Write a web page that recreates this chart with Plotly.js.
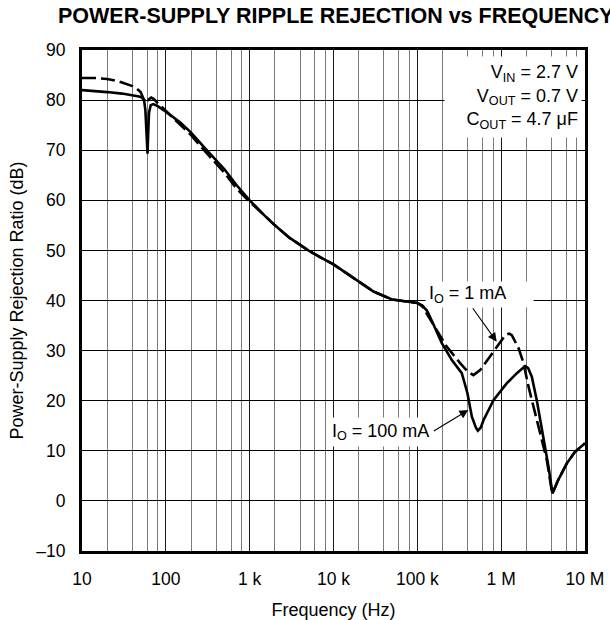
<!DOCTYPE html>
<html>
<head>
<meta charset="utf-8">
<script src="https://cdn.plot.ly/plotly-3.0.1.min.js"></script>
<style>html,body{margin:0;padding:0;background:#fff;}#chart{width:610px;height:620px;}</style>
</head>
<body>
<div id="chart"></div>
<script>
// ---- data ----
const freq100mA = [10, 15, 20, 30, 40, 48, 52, 55, 57, 58.5, 59.5, 60.5, 61.5, 63, 66, 71, 80, 100, 150, 200, 300, 500, 700, 1000, 1500, 2000, 3000, 5000, 7000, 10000, 15000, 20000, 30000, 50000, 70000, 100000, 115000, 130000, 142000, 170000, 196000, 258000, 339000, 396000, 447000, 500000, 527000, 570000, 615000, 810000, 1170000, 1540000, 1800000, 1930000, 2100000, 2320000, 2660000, 3200000, 3670000, 4090000, 4800000, 6070000, 7600000, 10000000];
const psrr100mA = [82.0, 81.8, 81.6, 81.3, 81.0, 80.7, 80.5, 80.0, 78.0, 74.0, 70.5, 69.3, 73.0, 77.5, 79.0, 79.2, 78.8, 77.7, 75.5, 73.5, 70.2, 66.2, 63.0, 60.0, 57.0, 55.0, 52.5, 50.0, 48.6, 47.2, 45.2, 43.8, 41.8, 40.2, 39.8, 39.5, 39.0, 38.0, 36.7, 33.8, 31.5, 28.1, 25.5, 21.5, 16.8, 14.6, 14.0, 14.6, 16.1, 20.1, 23.5, 25.5, 26.6, 26.9, 26.5, 24.8, 20.1, 12.8, 6.8, 1.5, 4.2, 7.5, 9.8, 11.5];

const freq1mA = [10, 15, 20, 25, 30, 40, 45, 50, 54, 56, 58, 60, 63, 67, 72, 80, 100, 150, 200, 300, 500, 700, 1000, 1500, 2000, 3000, 5000, 7000, 10000, 15000, 20000, 30000, 50000, 70000, 100000, 115000, 130000, 150000, 171000, 224000, 324000, 400000, 467000, 561000, 810000, 1000000, 1120000, 1250000, 1340000, 1610000, 1850000, 2120000, 2660000, 3500000, 4000000, 4090000, 4800000, 6070000, 7600000, 10000000];
const psrr1mA = [84.4, 84.4, 84.2, 83.9, 83.5, 82.8, 82.3, 81.6, 80.3, 79.8, 79.5, 79.6, 80.2, 80.5, 80.2, 79.4, 77.8, 75.0, 73.0, 69.6, 65.5, 62.3, 59.7, 57.0, 55.0, 52.5, 50.0, 48.6, 47.2, 45.2, 43.8, 41.8, 40.2, 39.8, 39.5, 38.8, 37.3, 35.6, 34.1, 30.8, 27.5, 25.8, 25.1, 26.1, 29.8, 32.0, 33.1, 33.4, 33.1, 30.5, 27.5, 22.8, 16.1, 8.2, 2.2, 1.5, 4.2, 7.5, 9.8, 11.5];

const xTickVals = [10, 100, 1000, 10000, 100000, 1000000, 10000000];
const xTickText = ['10', '100', '1 k', '10 k', '100 k', '1 M', '10 M'];
const yTickVals = [-10, 0, 10, 20, 30, 40, 50, 60, 70, 80, 90];
const yTickText = ['\u201310', '0', '10', '20', '30', '40', '50', '60', '70', '80', '90'];

// minor vertical grid lines at 2,4,6,8 in every decade
const minorVals = [];
for (let d = 10; d < 1e7; d *= 10) { [2, 4, 6, 8].forEach(m => minorVals.push(m * d)); }

// ---- layout helpers (pixel -> paper) ----
const L = 82, R = 585, T = 50, B = 551;
const px = v => (v - L) / (R - L);
const py = v => (B - v) / (B - T);
const FONT = 'Liberation Sans, Arial, Helvetica, sans-serif';
const TXT = { family: FONT, size: 18, color: '#000' };

const traces = [
  { x: freq100mA, y: psrr100mA, type: 'scatter', mode: 'lines', name: 'IO = 100 mA',
    line: { color: '#000', width: 2.6 } },
  { x: freq1mA, y: psrr1mA, type: 'scatter', mode: 'lines', name: 'IO = 1 mA',
    line: { color: '#000', width: 2.6, dash: '14px,5px' } }
];

const layout = {
  width: 610, height: 620,
  margin: { l: L, r: 610 - R, t: T, b: 620 - B, pad: 0 },
  paper_bgcolor: '#fff', plot_bgcolor: '#fff',
  showlegend: false,
  font: { family: FONT, color: '#000', size: 17 },
  title: { text: 'POWER-SUPPLY RIPPLE REJECTION vs FREQUENCY',
    font: { family: FONT, size: 21.5, weight: 'bold', color: '#000' },
    xref: 'container', yref: 'container', x: 58 / 610, xanchor: 'left', y: 1 - 15 / 620, yanchor: 'middle' },
  xaxis: {
    type: 'log', range: [1, 7], fixedrange: true,
    tickmode: 'array', tickvals: xTickVals, ticktext: xTickText,
    ticks: '', ticklabelstandoff: 10,
    tickfont: { family: FONT, size: 17.5, color: '#000' },
    showgrid: true, gridcolor: '#1a1a1a', gridwidth: 1,
    minor: { tickmode: 'array', tickvals: minorVals, showgrid: true, gridcolor: '#7a7a7a', gridwidth: 1, ticks: '' },
    showline: true, linecolor: '#000', linewidth: 3, mirror: true,
    zeroline: false,
    title: { text: 'Frequency (Hz)', font: TXT, standoff: 19 }
  },
  yaxis: {
    range: [-10, 90], fixedrange: true,
    tickmode: 'array', tickvals: yTickVals, ticktext: yTickText,
    ticks: '', ticklabelstandoff: 10,
    tickfont: { family: FONT, size: 17.5, color: '#000' },
    showgrid: true, gridcolor: '#000', gridwidth: 1,
    showline: true, linecolor: '#000', linewidth: 3, mirror: true,
    zeroline: false,
    title: { text: 'Power-Supply Rejection Ratio (dB)', font: TXT, standoff: 8 }
  },
  annotations: [
    { xref: 'paper', yref: 'paper', x: px(582), y: py(96.5), xanchor: 'right', yanchor: 'middle',
      text: 'V<sub>IN</sub> = 2.7 V<br>V<sub>OUT</sub> = 0.7 V<br>C<sub>OUT</sub> = 4.7 \u03BCF',
      align: 'right', width: 130, height: 74, borderpad: 3, bgcolor: '#fff', showarrow: false,
      font: TXT },
    { xref: 'paper', yref: 'paper', x: px(425), y: py(294), xanchor: 'left', yanchor: 'middle',
      text: 'I<sub>O</sub> = 1 mA', align: 'left', width: 101, height: 19, borderpad: 3,
      bgcolor: '#fff', showarrow: false, font: TXT },
    { xref: 'paper', yref: 'paper', x: px(328), y: py(432), xanchor: 'left', yanchor: 'middle',
      text: 'I<sub>O</sub> = 100 mA', align: 'left', width: 103, height: 22, borderpad: 3,
      bgcolor: '#fff', showarrow: false, font: TXT },
    { xref: 'paper', yref: 'paper', x: px(496.7), y: py(341.7), text: '', showarrow: true,
      axref: 'pixel', ayref: 'pixel', ax: -25, ay: -35, arrowhead: 2, arrowsize: 1.6, arrowwidth: 1.1,
      arrowcolor: '#000', standoff: 0 },
    { xref: 'paper', yref: 'paper', x: px(468.3), y: py(410), text: '', showarrow: true,
      axref: 'pixel', ayref: 'pixel', ax: -36, ay: 22, arrowhead: 2, arrowsize: 1.6, arrowwidth: 1.1,
      arrowcolor: '#000', standoff: 0 }
  ]
};

Plotly.newPlot('chart', traces, layout, { displayModeBar: false, staticPlot: true });
</script>
</body>
</html>
